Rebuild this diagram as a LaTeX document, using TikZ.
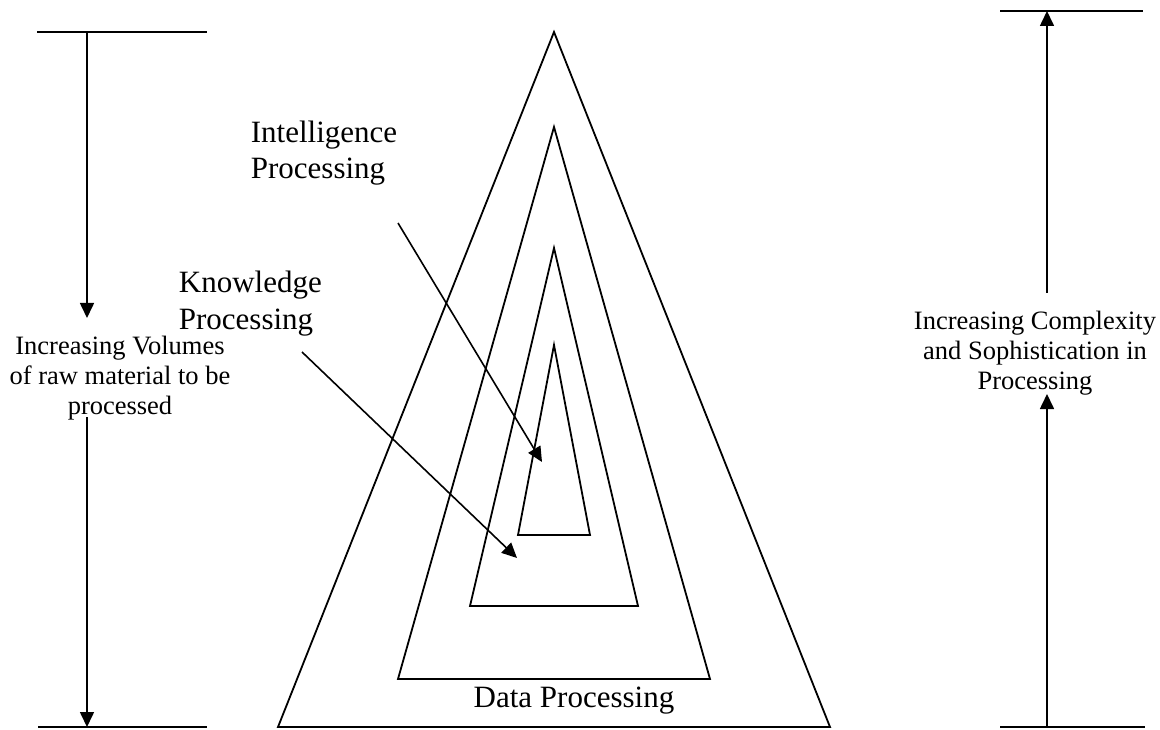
\documentclass[tikz,border=0pt]{standalone}
\usepackage{fontspec}
\setmainfont{Liberation Serif}
\usetikzlibrary{arrows.meta}
\begin{document}
\begin{tikzpicture}[x=1pt,y=-1pt,
  line width=1.8pt,
  arr/.style={-{Triangle[length=15pt,width=14pt]}, line width=1.6pt},
  tri/.style={line width=1.8pt, line join=miter},
  big/.style={font=\fontsize{31}{36}\selectfont, inner sep=0pt},
  small/.style={font=\fontsize{26.5}{30}\selectfont, inner sep=0pt, align=center}]
\useasboundingbox (0,0) rectangle (1160,730);

% nested processing triangles
\draw[tri] (554,32) -- (278,727) -- (830,727) -- cycle;
\draw[tri] (554,127) -- (398,679) -- (710,679) -- cycle;
\draw[tri] (554,248) -- (470,606) -- (638,606) -- cycle;
\draw[tri] (554,345) -- (518,535) -- (590,535) -- cycle;

% left scale: volumes
\coordinate (lt) at (87,32);
\coordinate (lm1) at (87,318);
\coordinate (lm2) at (87,417);
\coordinate (lb) at (87,727);
\draw (37,32) -- (207,32);
\draw (38,727) -- (207,727);
\draw[arr] (lt) -- (lm1);
\draw[arr] (lm2) -- (lb);

% right scale: complexity
\coordinate (rt) at (1047,11);
\coordinate (rm1) at (1047,293);
\coordinate (rm2) at (1047,394);
\coordinate (rb) at (1047,727);
\draw (1000,11) -- (1143,11);
\draw (1000,727) -- (1145,727);
\draw[arr] (rm1) -- (rt);
\draw[arr] (rb) -- (rm2);

% labels (base anchor sits on the last line)
\node[big, anchor=base west, align=left] (intel) at (250,179) {Intelligence\\Processing};
\node[big, anchor=base west, align=left] (know) at (178,329) {Knowledge\\Processing};
\node[big, anchor=base] (data) at (574,707) {Data Processing};
\node[small, anchor=base] (vol) at (120,414) {Increasing Volumes\\of raw material to be\\processed};
\node[small, anchor=base] (cplx) at (1035,389) {Increasing Complexity\\and Sophistication in\\Processing};

% pointers into the inner triangles
\coordinate (ia) at (398,223);
\coordinate (ib) at (542,462);
\coordinate (ka) at (302,352);
\coordinate (kb) at (517,558);
\draw[arr] (ia) -- (ib);
\draw[arr] (ka) -- (kb);
\end{tikzpicture}
\end{document}
